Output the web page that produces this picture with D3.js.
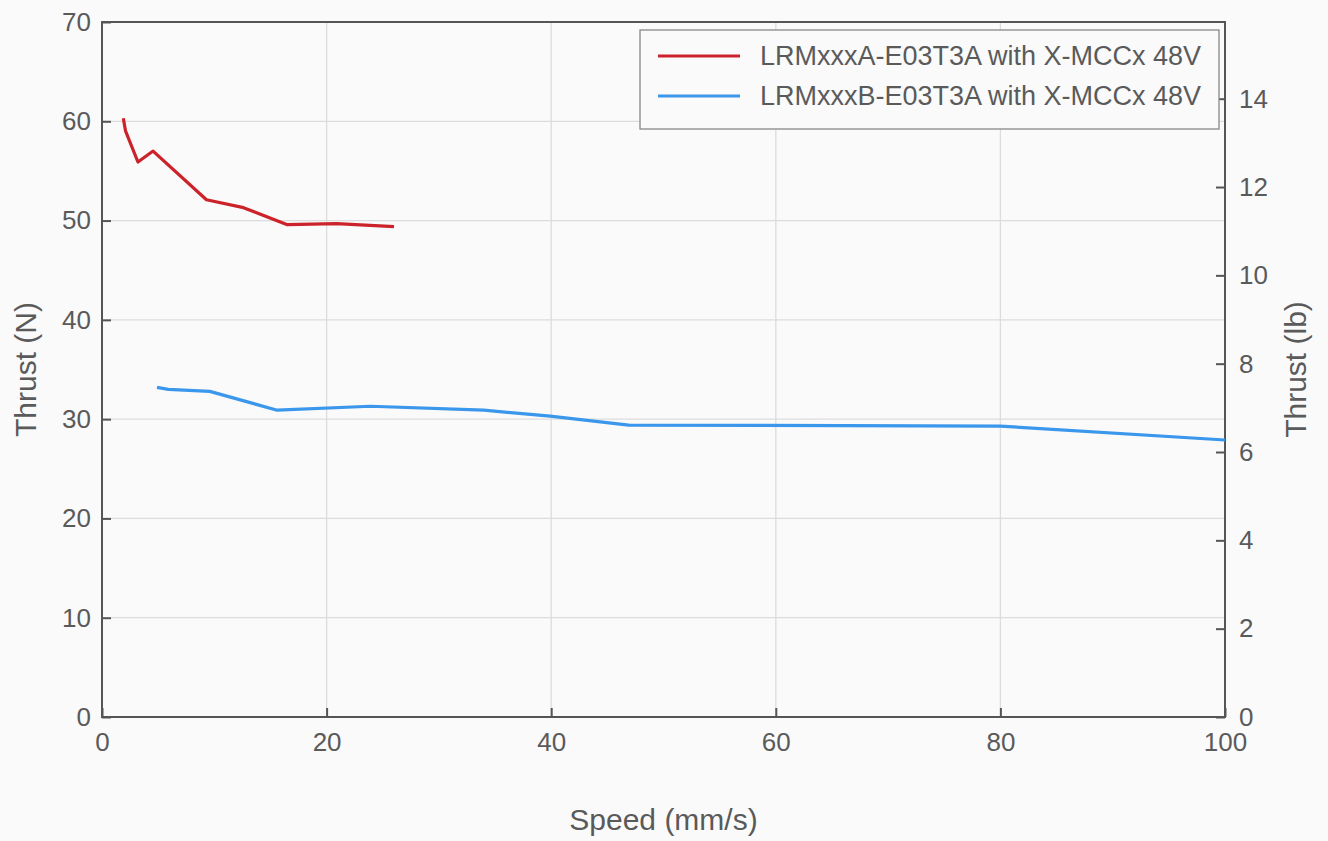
<!DOCTYPE html>
<html>
<head>
<meta charset="utf-8">
<script src="https://cdn.jsdelivr.net/npm/d3@7"></script>
<style>
  body { margin: 0; background: #fafafa; }
  text { font-family: "Liberation Sans", Arial, sans-serif; fill: #5a5a5a; }
</style>
</head>
<body>
<div id="chart"></div>
<script>
// Series A (red)
const speedA = [1.9, 2.1, 3.2, 4.55, 9.3, 12.6, 16.45, 20.9, 26.0];
const thrustA = [60.3, 59.0, 55.9, 57.0, 52.1, 51.3, 49.6, 49.7, 49.4];

// Series B (blue)
const speedB = [4.9, 5.9, 9.6, 15.6, 23.9, 34.0, 39.9, 46.9, 80.0, 100];
const thrustB = [33.2, 33.0, 32.8, 30.9, 31.3, 30.9, 30.3, 29.4, 29.3, 27.9];

const seriesNames = [
  "LRMxxxA-E03T3A with X-MCCx 48V",
  "LRMxxxB-E03T3A with X-MCCx 48V",
];
const seriesColors = ["#cc2229", "#3a97ec"];

const xTicks = [0, 20, 40, 60, 80, 100];
const yTicks = [0, 10, 20, 30, 40, 50, 60, 70];
const lbTicks = [0, 2, 4, 6, 8, 10, 12, 14];
const N_PER_LB = 4.44822;

const W = 1328, H = 841;
const margin = { top: 22, right: 103, bottom: 124, left: 102 };
const width = W - margin.left - margin.right,
  height = H - margin.top - margin.bottom;

const svg = d3
  .select("#chart")
  .append("svg")
  .attr("width", W)
  .attr("height", H);

const g = svg
  .append("g")
  .attr("transform", `translate(${margin.left},${margin.top})`);

const x = d3.scaleLinear().domain([0, 100]).range([0, width]);
const y = d3.scaleLinear().domain([0, 70]).range([height, 0]);
const yLb = d3.scaleLinear().domain([0, 70 / N_PER_LB]).range([height, 0]);

// plot background
g.append("rect")
  .attr("width", width)
  .attr("height", height)
  .attr("fill", "#fafafa");

// gridlines
g.append("g")
  .selectAll("line")
  .data(xTicks.slice(1, -1))
  .enter()
  .append("line")
  .attr("x1", (d) => x(d))
  .attr("x2", (d) => x(d))
  .attr("y1", 0)
  .attr("y2", height)
  .attr("stroke", "#dcdcdc")
  .attr("stroke-width", 1.3);

g.append("g")
  .selectAll("line")
  .data(yTicks.slice(1, -1))
  .enter()
  .append("line")
  .attr("x1", 0)
  .attr("x2", width)
  .attr("y1", (d) => y(d))
  .attr("y2", (d) => y(d))
  .attr("stroke", "#dcdcdc")
  .attr("stroke-width", 1.3);

// axes (ticks pointing inward)
const styleAxis = (sel) => {
  sel.select(".domain").remove();
  sel.selectAll(".tick line").attr("stroke", "#555").attr("stroke-width", 2);
  sel.selectAll(".tick text").style("font-size", "26px").attr("fill", "#5a5a5a");
};

g.append("g")
  .attr("transform", `translate(0,${height})`)
  .call(d3.axisBottom(x).tickValues(xTicks).tickSizeInner(-9).tickSizeOuter(0).tickPadding(16))
  .call(styleAxis);

g.append("g")
  .call(d3.axisLeft(y).tickValues(yTicks).tickSizeInner(-9).tickSizeOuter(0).tickPadding(11))
  .call(styleAxis);

g.append("g")
  .attr("transform", `translate(${width},0)`)
  .call(d3.axisRight(yLb).tickValues(lbTicks).tickSizeInner(-9).tickSizeOuter(0).tickPadding(14))
  .call(styleAxis);

// frame
g.append("rect")
  .attr("width", width)
  .attr("height", height)
  .attr("fill", "none")
  .attr("stroke", "#555")
  .attr("stroke-width", 2);

// lines
const line = d3
  .line()
  .x((d) => x(d[0]))
  .y((d) => y(d[1]));

const series = [
  d3.zip(speedA, thrustA),
  d3.zip(speedB, thrustB),
];

g.selectAll(".series")
  .data(series)
  .enter()
  .append("path")
  .attr("class", "series")
  .attr("d", line)
  .attr("fill", "none")
  .attr("stroke", (d, i) => seriesColors[i])
  .attr("stroke-width", 3.2)
  .attr("stroke-linejoin", "round");

// axis titles
svg.append("text")
  .attr("x", margin.left + width / 2)
  .attr("y", 830)
  .attr("text-anchor", "middle")
  .style("font-size", "30px")
  .text("Speed (mm/s)");

svg.append("text")
  .attr("transform", `translate(36,${margin.top + height / 2}) rotate(-90)`)
  .attr("text-anchor", "middle")
  .style("font-size", "30px")
  .text("Thrust (N)");

svg.append("text")
  .attr("transform", `translate(1306,${margin.top + height / 2}) rotate(-90)`)
  .attr("text-anchor", "middle")
  .style("font-size", "30px")
  .text("Thrust (lb)");

// legend
const legend = svg.append("g").attr("transform", "translate(640,30)");
legend.append("rect")
  .attr("width", 579)
  .attr("height", 99)
  .attr("fill", "#fafafa")
  .attr("stroke", "#888")
  .attr("stroke-width", 1.3);

const item = legend
  .selectAll(".item")
  .data(seriesNames)
  .enter()
  .append("g")
  .attr("transform", (d, i) => `translate(0,${26 + i * 40})`);

item.append("line")
  .attr("x1", 18)
  .attr("x2", 100)
  .attr("stroke", (d, i) => seriesColors[i])
  .attr("stroke-width", 3.2);

item.append("text")
  .attr("x", 120)
  .attr("dy", "0.35em")
  .style("font-size", "27px")
  .text((d) => d);
</script>
</body>
</html>
